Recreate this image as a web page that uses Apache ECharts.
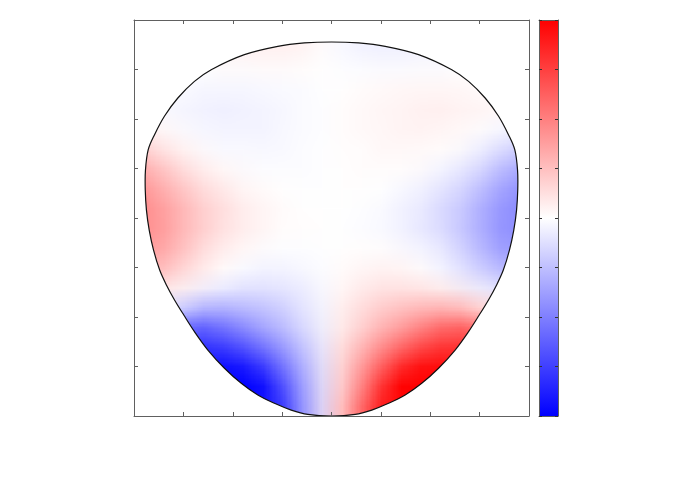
<!DOCTYPE html>
<html>
<head>
<meta charset="utf-8">
<script src="https://cdn.jsdelivr.net/npm/echarts@6/dist/echarts.min.js"></script>
<style>
  html, body { margin: 0; padding: 0; background: #fff; }
  #field { position: absolute; left: 0; top: 0; width: 20px; height: 20px; transform-origin: 0 0; z-index: 0; }
  #main { position: absolute; left: 0; top: 0; width: 692px; height: 485px; z-index: 1; }
</style>
</head>
<body>
<div id="field"></div>
<div id="main"></div>
<script>
// cell centres of the sampled field (x left->right, y bottom->top)
const xCells = [-0.95, -0.85, -0.75, -0.65, -0.55, -0.45, -0.35, -0.25, -0.15, -0.05,
                0.05, 0.15, 0.25, 0.35, 0.45, 0.55, 0.65, 0.75, 0.85, 0.95]
const yCells = [-0.95, -0.85, -0.75, -0.65, -0.55, -0.45, -0.35, -0.25, -0.15, -0.05,
                0.05, 0.15, 0.25, 0.35, 0.45, 0.55, 0.65, 0.75, 0.85, 0.95]

// field values, one row per y, top row first (null = outside)
const N = null
const fieldRows = [
  [N,N,N,N,N,0.05,0.06,0.06,0.05,0.02,-0.02,-0.05,-0.06,-0.06,-0.05,N,N,N,N,N],                          // 0.95
  [N,N,N,0.03,0.04,0.05,0.06,0.06,0.05,0.02,-0.02,-0.05,-0.06,-0.06,-0.05,-0.04,-0.03,N,N,N],            // 0.85
  [N,-0.005,0,0,0.01,0.015,0.02,0.02,0.015,0.005,-0.005,-0.015,-0.02,-0.02,-0.015,-0.01,0,0,0.005,N],    // 0.75
  [N,-0.01,-0.015,-0.025,-0.03,-0.03,-0.025,-0.02,-0.012,-0.004,0.004,0.012,0.02,0.025,0.03,0.03,0.025,0.015,0.01,N], // 0.65
  [-0.02,-0.03,-0.045,-0.055,-0.06,-0.055,-0.045,-0.035,-0.02,-0.007,0.007,0.02,0.035,0.045,0.055,0.06,0.055,0.045,0.03,0.02], // 0.55
  [0.02,0,-0.02,-0.04,-0.05,-0.05,-0.045,-0.035,-0.02,-0.007,0.007,0.02,0.035,0.045,0.05,0.05,0.04,0.02,0,-0.02], // 0.45
  [0.15,0.08,0.02,-0.01,-0.025,-0.03,-0.03,-0.025,-0.015,-0.005,0.005,0.015,0.025,0.03,0.03,0.025,0.01,-0.02,-0.08,-0.15], // 0.35
  [0.3,0.2,0.11,0.05,0.01,-0.01,-0.015,-0.015,-0.01,-0.004,0.004,0.01,0.015,0.015,0.01,-0.01,-0.05,-0.11,-0.2,-0.3], // 0.25
  [0.4,0.3,0.2,0.13,0.07,0.035,0.01,0,-0.003,-0.002,0.002,0.003,0,-0.01,-0.035,-0.07,-0.13,-0.2,-0.3,-0.4], // 0.15
  [0.45,0.38,0.28,0.19,0.12,0.07,0.035,0.015,0.005,0.001,-0.001,-0.005,-0.015,-0.035,-0.07,-0.12,-0.19,-0.28,-0.38,-0.45], // 0.05
  [0.45,0.4,0.3,0.21,0.14,0.09,0.05,0.02,0.008,0.002,-0.002,-0.008,-0.02,-0.05,-0.09,-0.14,-0.21,-0.3,-0.4,-0.45], // -0.05
  [0.42,0.38,0.27,0.17,0.1,0.05,0.02,0,-0.005,-0.002,0.002,0.005,0,-0.02,-0.05,-0.1,-0.17,-0.27,-0.38,-0.42], // -0.15
  [0.33,0.32,0.22,0.12,0.04,0,-0.03,-0.03,-0.02,-0.008,0.008,0.02,0.03,0.03,0,-0.04,-0.12,-0.22,-0.32,-0.33], // -0.25
  [0.2,0.15,0.1,0.04,-0.01,-0.05,-0.07,-0.08,-0.06,-0.025,0.025,0.06,0.08,0.07,0.05,0.01,-0.04,-0.1,-0.15,-0.2], // -0.35
  [N,0,-0.04,-0.15,-0.2,-0.21,-0.2,-0.17,-0.11,-0.045,0.045,0.11,0.17,0.2,0.21,0.2,0.15,0.04,0,N],        // -0.45
  [N,-0.3,-0.5,-0.55,-0.5,-0.4,-0.31,-0.23,-0.14,-0.055,0.055,0.14,0.23,0.31,0.4,0.5,0.55,0.5,0.3,N],     // -0.55
  [N,N,-0.72,-0.75,-0.7,-0.6,-0.48,-0.36,-0.23,-0.09,0.09,0.23,0.36,0.48,0.6,0.7,0.75,0.72,N,N],          // -0.65
  [N,N,-0.85,-0.9,-0.92,-0.88,-0.72,-0.52,-0.32,-0.12,0.12,0.32,0.52,0.72,0.88,0.92,0.9,0.85,N,N],        // -0.75
  [N,N,N,-0.95,-1,-1,-1,-0.7,-0.4,-0.14,0.14,0.4,0.7,1,1,1,0.95,N,N,N],                                   // -0.85
  [N,N,N,N,-1,-1,-0.95,-0.85,-0.5,-0.18,0.18,0.5,0.85,0.95,1,1,N,N,N,N]                                   // -0.95
]

// outline of the domain, starting at the bottom point, going up the left side
const outlineX = [0, -0.12, -0.204, -0.289, -0.373, -0.457, -0.542, -0.626, -0.694, -0.748, -0.797, -0.836,
  -0.87, -0.901, -0.923, -0.937, -0.943, -0.942, -0.928, -0.896, -0.846, -0.778, -0.694, -0.609, -0.441,
  -0.272, -0.137, 0,
  0.137, 0.272, 0.441, 0.609, 0.694, 0.778, 0.846, 0.896, 0.928, 0.942, 0.943, 0.937, 0.923, 0.901,
  0.87, 0.836, 0.797, 0.748, 0.694, 0.626, 0.542, 0.457, 0.373, 0.289, 0.204, 0.12]
const outlineY = [-1, -0.992, -0.97, -0.936, -0.894, -0.835, -0.759, -0.667, -0.574, -0.49, -0.41, -0.338,
  -0.263, -0.162, -0.061, 0.04, 0.141, 0.242, 0.345, 0.421, 0.514, 0.606, 0.69, 0.749, 0.825,
  0.867, 0.884, 0.889,
  0.884, 0.867, 0.825, 0.749, 0.69, 0.606, 0.514, 0.421, 0.345, 0.242, 0.141, 0.04, -0.061, -0.162,
  -0.263, -0.338, -0.41, -0.49, -0.574, -0.667, -0.759, -0.835, -0.894, -0.936, -0.97, -0.992]

const colorStops = ['#0000ff', '#ffffff', '#ff0000']
const frameColor = '#606060'
const outlineSmooth = 0.35

// heatmap data [xIndex, yIndex, value]
let heatData = []
for (let r = 0; r < fieldRows.length; r++) {
  for (let c = 0; c < fieldRows[r].length; c++) {
    let v = fieldRows[r][c]
    if (v === null) continue
    heatData.push([c, yCells.length - 1 - r, v])
  }
}

// main chart: frame, ticks, mask, outline, colour bar
const chart = echarts.init(document.getElementById('main'), null, { renderer: 'canvas' })

function frameAxis(extra) {
  return Object.assign({
    type: 'value', min: -1, max: 1, interval: 0.25,
    axisLine: { show: true, onZero: false, lineStyle: { color: frameColor, width: 1 } },
    axisTick: { show: true, inside: true, length: 4, lineStyle: { color: frameColor } },
    axisLabel: { show: false },
    splitLine: { show: false },
    z: 5
  }, extra)
}

chart.setOption({
  animation: false,
  backgroundColor: 'transparent',
  grid: [
    { left: 134, top: 20, width: 395, height: 396 },
    {
      left: 539, top: 20, width: 19, height: 396, show: true, borderWidth: 0,
      backgroundColor: new echarts.graphic.LinearGradient(0, 0, 0, 1, [
        { offset: 0, color: colorStops[2] },
        { offset: 0.5, color: colorStops[1] },
        { offset: 1, color: colorStops[0] }
      ])
    }
  ],
  xAxis: [
    frameAxis({ gridIndex: 0, position: 'bottom' }),
    frameAxis({ gridIndex: 0, position: 'top' }),
    frameAxis({ gridIndex: 1, position: 'bottom', axisTick: { show: false } }),
    frameAxis({ gridIndex: 1, position: 'top', axisTick: { show: false } })
  ],
  yAxis: [
    frameAxis({ gridIndex: 0, position: 'left' }),
    frameAxis({ gridIndex: 0, position: 'right' }),
    frameAxis({ gridIndex: 1, position: 'left', axisTick: { show: true, inside: true, length: 3, lineStyle: { color: '#333' } } }),
    frameAxis({ gridIndex: 1, position: 'right', axisTick: { show: true, inside: true, length: 3, lineStyle: { color: '#333' } } })
  ],
  series: [
    {
      // white cover outside the outline, then the outline itself
      type: 'custom',
      xAxisIndex: 0, yAxisIndex: 0,
      clip: true, silent: true, z: 2,
      data: [[0, 0]],
      renderItem: function (params, api) {
        let shapePts = outlineX.map((x, i) => api.coord([x, outlineY[i]]))
        let maskPts = [api.coord([0, -1]), api.coord([-1, -1]), api.coord([-1, 1]),
                       api.coord([1, 1]), api.coord([1, -1]), api.coord([0, -1])]
        for (let i = shapePts.length - 1; i >= 1; i--) maskPts.push(shapePts[i])
        return {
          type: 'group',
          children: [
            { type: 'polygon', shape: { points: maskPts, smooth: outlineSmooth }, style: { fill: '#fff', stroke: null } },
            { type: 'polygon', shape: { points: shapePts, smooth: outlineSmooth }, style: { fill: null, stroke: '#111', lineWidth: 1.2 } }
          ]
        }
      }
    }
  ]
})

// field: a tiny heatmap, one pixel per cell, stretched over the plot area
const field = echarts.init(document.getElementById('field'), null, { renderer: 'canvas', width: 20, height: 20 })
field.setOption({
  animation: false,
  grid: { left: 0, right: 0, top: 0, bottom: 0 },
  xAxis: { type: 'category', data: xCells, show: false },
  yAxis: { type: 'category', data: yCells, show: false },
  visualMap: { show: false, min: -1, max: 1, inRange: { color: colorStops } },
  series: [{ type: 'heatmap', data: heatData, itemStyle: { borderWidth: 0 } }]
})

let p0 = chart.convertToPixel({ xAxisIndex: 0, yAxisIndex: 0 }, [-1, 1])
let p1 = chart.convertToPixel({ xAxisIndex: 0, yAxisIndex: 0 }, [1, -1])
let fieldDiv = document.getElementById('field')
fieldDiv.style.left = p0[0] + 'px'
fieldDiv.style.top = p0[1] + 'px'
fieldDiv.style.transform = 'scale(' + ((p1[0] - p0[0]) / 20) + ',' + ((p1[1] - p0[1]) / 20) + ')'
</script>
</body>
</html>
